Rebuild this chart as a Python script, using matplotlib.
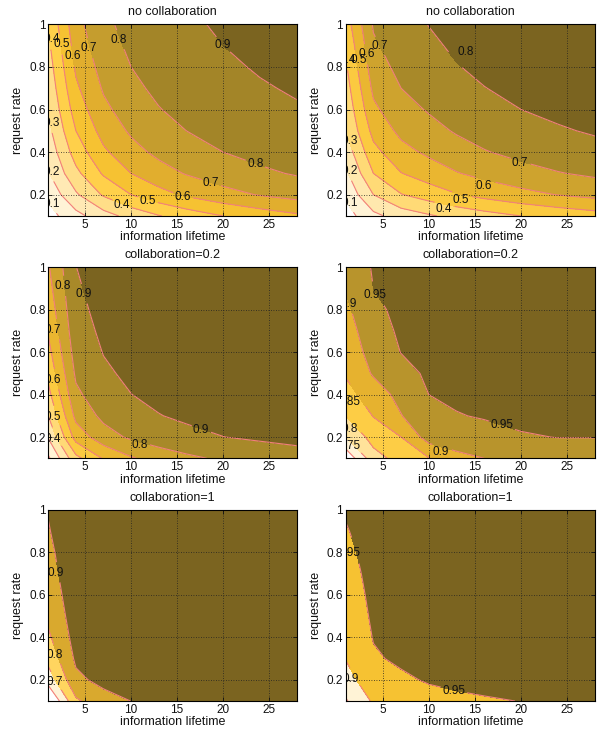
import numpy as np
import matplotlib
matplotlib.use('Agg')
import matplotlib.pyplot as plt
from matplotlib.colors import LinearSegmentedColormap

plt.rcParams['font.family'] = ['Liberation Sans', 'DejaVu Sans']

# ---------------- data ----------------
lifetime = [1, 4, 7, 10, 13, 16, 20, 24, 28]
request_rate = [0.1, 0.2, 0.3, 0.4, 0.5, 0.6, 0.7, 0.8, 0.9, 1.0]

# panel 1 (no collaboration, left) : rows = request rate, cols = lifetime
hit_p1_rows = [
    [0.060, 0.167, 0.259, 0.333, 0.394, 0.444, 0.500, 0.545, 0.583],
    [0.127, 0.286, 0.412, 0.500, 0.565, 0.615, 0.667, 0.706, 0.737],
    [0.193, 0.375, 0.512, 0.600, 0.661, 0.706, 0.750, 0.783, 0.808],
    [0.235, 0.444, 0.583, 0.667, 0.722, 0.762, 0.800, 0.828, 0.848],
    [0.273, 0.500, 0.636, 0.714, 0.765, 0.800, 0.833, 0.857, 0.875],
    [0.305, 0.545, 0.677, 0.750, 0.796, 0.828, 0.857, 0.878, 0.894],
    [0.330, 0.583, 0.710, 0.778, 0.820, 0.848, 0.875, 0.894, 0.907],
    [0.355, 0.615, 0.737, 0.800, 0.839, 0.865, 0.889, 0.906, 0.918],
    [0.380, 0.643, 0.759, 0.818, 0.854, 0.878, 0.900, 0.915, 0.926],
    [0.410, 0.667, 0.778, 0.833, 0.867, 0.889, 0.909, 0.923, 0.933],
]

# panel 2 (no collaboration, right) : rows = request rate
hit_p2_rows = [
    [0.056, 0.173, 0.245, 0.288, 0.328, 0.361, 0.400, 0.431, 0.458],
    [0.119, 0.300, 0.395, 0.447, 0.494, 0.531, 0.571, 0.603, 0.629],
    [0.181, 0.400, 0.497, 0.548, 0.594, 0.629, 0.666, 0.695, 0.717],
    [0.241, 0.470, 0.568, 0.618, 0.661, 0.694, 0.727, 0.752, 0.772],
    [0.300, 0.530, 0.624, 0.669, 0.709, 0.739, 0.769, 0.791, 0.809],
    [0.329, 0.580, 0.666, 0.708, 0.745, 0.773, 0.800, 0.820, 0.835],
    [0.357, 0.620, 0.700, 0.739, 0.773, 0.798, 0.823, 0.842, 0.856],
    [0.386, 0.655, 0.728, 0.764, 0.796, 0.819, 0.842, 0.859, 0.871],
    [0.414, 0.685, 0.752, 0.784, 0.814, 0.836, 0.857, 0.872, 0.884],
    [0.450, 0.710, 0.772, 0.802, 0.830, 0.850, 0.869, 0.884, 0.894],
]

# panel 3 (collaboration=0.2, left) : cols = lifetime
hit_p3_cols = [
    [0.182, 0.308, 0.400, 0.471, 0.526, 0.571, 0.609, 0.640, 0.667, 0.690],
    [0.471, 0.640, 0.727, 0.780, 0.816, 0.842, 0.862, 0.877, 0.889, 0.899],
    [0.609, 0.757, 0.824, 0.862, 0.886, 0.903, 0.916, 0.926, 0.933, 0.940],
    [0.690, 0.816, 0.870, 0.899, 0.917, 0.930, 0.940, 0.947, 0.952, 0.957],
    [0.743, 0.852, 0.897, 0.920, 0.935, 0.945, 0.953, 0.959, 0.963, 0.967],
    [0.780, 0.877, 0.914, 0.934, 0.947, 0.955, 0.961, 0.966, 0.970, 0.973],
    [0.816, 0.899, 0.930, 0.947, 0.957, 0.964, 0.969, 0.973, 0.976, 0.978],
    [0.842, 0.914, 0.941, 0.955, 0.964, 0.970, 0.974, 0.977, 0.980, 0.982],
    [0.862, 0.926, 0.949, 0.961, 0.969, 0.974, 0.978, 0.980, 0.982, 0.984],
]

# panel 4 (collaboration=0.2, right) : cols = lifetime
hit_p4_cols = [
    [0.660, 0.750, 0.801, 0.832, 0.855, 0.866, 0.878, 0.890, 0.902, 0.915],
    [0.780, 0.820, 0.852, 0.875, 0.905, 0.920, 0.930, 0.940, 0.950, 0.954],
    [0.820, 0.850, 0.898, 0.915, 0.935, 0.951, 0.957, 0.961, 0.964, 0.967],
    [0.848, 0.922, 0.938, 0.950, 0.957, 0.962, 0.966, 0.970, 0.973, 0.975],
    [0.885, 0.930, 0.948, 0.957, 0.964, 0.969, 0.973, 0.976, 0.979, 0.981],
    [0.900, 0.936, 0.953, 0.964, 0.970, 0.975, 0.978, 0.980, 0.982, 0.984],
    [0.910, 0.946, 0.961, 0.970, 0.975, 0.979, 0.982, 0.984, 0.986, 0.987],
    [0.921, 0.951, 0.967, 0.975, 0.979, 0.982, 0.985, 0.987, 0.988, 0.989],
    [0.925, 0.951, 0.971, 0.978, 0.982, 0.985, 0.987, 0.988, 0.990, 0.991],
]

# panel 5 (collaboration=1, left) : cols = lifetime
hit_p5_cols = [
    [0.476, 0.645, 0.732, 0.784, 0.820, 0.845, 0.864, 0.879, 0.894, 0.905],
    [0.784, 0.879, 0.916, 0.936, 0.948, 0.956, 0.962, 0.967, 0.970, 0.973],
    [0.864, 0.927, 0.950, 0.962, 0.970, 0.974, 0.978, 0.981, 0.983, 0.985],
    [0.901, 0.948, 0.965, 0.973, 0.978, 0.982, 0.985, 0.986, 0.988, 0.989],
    [0.922, 0.959, 0.973, 0.979, 0.983, 0.986, 0.988, 0.990, 0.991, 0.992],
    [0.936, 0.967, 0.978, 0.983, 0.986, 0.989, 0.990, 0.991, 0.992, 0.993],
    [0.948, 0.973, 0.982, 0.986, 0.989, 0.991, 0.992, 0.993, 0.994, 0.995],
    [0.956, 0.978, 0.985, 0.989, 0.991, 0.992, 0.993, 0.994, 0.995, 0.995],
    [0.962, 0.981, 0.987, 0.990, 0.992, 0.993, 0.994, 0.995, 0.996, 0.996],
]

# panel 6 (collaboration=1, right) : cols = lifetime
hit_p6_cols = [
    [0.845, 0.878, 0.902, 0.909, 0.917, 0.924, 0.932, 0.939, 0.947, 0.954],
    [0.907, 0.935, 0.945, 0.952, 0.957, 0.961, 0.964, 0.967, 0.969, 0.971],
    [0.925, 0.943, 0.957, 0.964, 0.969, 0.972, 0.975, 0.977, 0.979, 0.980],
    [0.935, 0.954, 0.966, 0.972, 0.977, 0.980, 0.982, 0.984, 0.985, 0.986],
    [0.940, 0.961, 0.971, 0.977, 0.981, 0.984, 0.986, 0.987, 0.988, 0.989],
    [0.945, 0.966, 0.975, 0.980, 0.984, 0.986, 0.988, 0.989, 0.990, 0.991],
    [0.951, 0.970, 0.978, 0.983, 0.986, 0.988, 0.990, 0.991, 0.992, 0.993],
    [0.956, 0.973, 0.981, 0.985, 0.988, 0.990, 0.991, 0.992, 0.993, 0.994],
    [0.960, 0.976, 0.983, 0.987, 0.990, 0.991, 0.992, 0.993, 0.994, 0.995],
]

levels_p1 = [0.1, 0.2, 0.3, 0.4, 0.5, 0.6, 0.7, 0.8, 0.9]
levels_p2 = [0.1, 0.2, 0.3, 0.4, 0.5, 0.6, 0.7, 0.8]
levels_p3 = [0.2, 0.3, 0.4, 0.5, 0.6, 0.7, 0.8, 0.9]
levels_p4 = [0.7, 0.75, 0.8, 0.85, 0.9, 0.95]
levels_p5 = [0.6, 0.7, 0.8, 0.9]
levels_p6 = [0.85, 0.9, 0.95]

titles = ['no collaboration', 'no collaboration',
          'collaboration=0.2', 'collaboration=0.2',
          'collaboration=1', 'collaboration=1']
x_label = 'information lifetime'
y_label = 'request rate'
x_ticks = [5, 10, 15, 20, 25]
y_ticks = [0.2, 0.4, 0.6, 0.8, 1.0]
y_tick_labels = ['0.2', '0.4', '0.6', '0.8', '1']

# contour label anchor points (level, lifetime, rate)
labels_p1 = [(0.4, 1.35, 0.93), (0.5, 2.45, 0.906), (0.6, 3.7, 0.85), (0.7, 5.4, 0.887),
             (0.8, 8.7, 0.925), (0.9, 19.95, 0.903), (0.3, 1.35, 0.538), (0.2, 1.35, 0.308),
             (0.1, 1.35, 0.156), (0.4, 8.97, 0.152), (0.5, 11.8, 0.17), (0.6, 15.6, 0.188),
             (0.7, 18.7, 0.253), (0.8, 23.5, 0.344)]
labels_p2 = [(0.8, 14.0, 0.872), (0.7, 4.7, 0.898), (0.6, 3.3, 0.86), (0.5, 2.4, 0.832),
             (0.4, 1.2, 0.832), (0.3, 1.4, 0.454), (0.2, 1.4, 0.313), (0.1, 1.4, 0.163),
             (0.4, 11.6, 0.131), (0.5, 13.5, 0.175), (0.6, 16.0, 0.241), (0.7, 19.9, 0.35)]
labels_p3 = [(0.8, 2.6, 0.912), (0.9, 4.8, 0.874), (0.7, 1.45, 0.705), (0.6, 1.45, 0.469),
             (0.5, 1.45, 0.296), (0.4, 1.45, 0.191), (0.9, 17.6, 0.233), (0.8, 10.9, 0.163)]
labels_p4 = [(0.95, 4.19, 0.87), (0.9, 1.35, 0.826), (0.85, 1.35, 0.367), (0.8, 1.45, 0.237),
             (0.75, 1.35, 0.158), (0.95, 17.96, 0.257), (0.9, 11.3, 0.131)]
labels_p5 = [(0.9, 1.8, 0.705), (0.8, 1.7, 0.317), (0.7, 1.7, 0.191)]
labels_p6 = [(0.95, 1.35, 0.799), (0.9, 1.5, 0.202), (0.95, 12.7, 0.147)]

# ---------------- style ----------------
cmap = LinearSegmentedColormap.from_list('hit', [
    (0.0, '#FFF3D6'), (0.125, '#FFE9B4'), (0.25, '#FFDE88'), (0.375, '#FFD04A'),
    (0.5, '#F6C232'), (0.625, '#E2AE2E'), (0.75, '#C69E2E'), (0.875, '#A48628'),
    (1.0, '#7B6420')])
line_color = '#F2807C'
FS_TICK = 8.5
FS_TEXT = 9

panels = [
    (np.array(hit_p1_rows), levels_p1, labels_p1),
    (np.array(hit_p2_rows), levels_p2, labels_p2),
    (np.array(hit_p3_cols).T, levels_p3, labels_p3),
    (np.array(hit_p4_cols).T, levels_p4, labels_p4),
    (np.array(hit_p5_cols).T, levels_p5, labels_p5),
    (np.array(hit_p6_cols).T, levels_p6, labels_p6),
]

W, H = 602, 734
fig = plt.figure(figsize=(W / 100, H / 100), dpi=100)
lefts = [48.3, 345.7]
rights = [296.7, 595.0]
tops = [24.3, 267.3, 510.0]
bottoms = [216.0, 458.3, 701.0]

X, Y = np.meshgrid(lifetime, request_rate)
for k, (Z, levels, labs) in enumerate(panels):
    r, c = divmod(k, 2)
    ax = fig.add_axes([lefts[c] / W, 1 - bottoms[r] / H,
                       (rights[c] - lefts[c]) / W, (bottoms[r] - tops[r]) / H])
    ax.set_xlim(1, 28)
    ax.set_ylim(0.1, 1)
    n = len(levels)
    cols = [cmap(i / (n - 1)) for i in range(n)]
    ax.contourf(X, Y, Z, levels=list(levels) + [1.0], colors=cols, zorder=1)
    # one line set per level so each label goes on its own contour
    line_sets = {}
    for lev in levels:
        line_sets[lev] = ax.contour(X, Y, Z, levels=[lev], colors=line_color,
                                    linewidths=0.8, zorder=2)
    for lev, lx, ly in labs:
        cs = line_sets[lev]
        cs.clabel(manual=[(lx, ly)], fmt='%g', fontsize=FS_TICK, colors=['k'],
                  inline=True, inline_spacing=2)
        t = cs.labelTexts[-1]
        t.set_rotation(0)
        t.set_position((lx, ly))
        t.set_color('#111111')
    ax.set_xticks(x_ticks)
    ax.set_yticks(y_ticks)
    ax.set_yticklabels(y_tick_labels)
    ax.tick_params(direction='in', top=True, right=True, length=3, width=0.6,
                   labelsize=FS_TICK, pad=2, colors='#111111')
    ax.set_axisbelow(False)
    ax.grid(True, linestyle=(0, (1, 2)), color='#222222', linewidth=0.6, zorder=3)
    for s in ax.spines.values():
        s.set_linewidth(0.8)
        s.set_zorder(5)
    ax.set_title(titles[k], fontsize=FS_TEXT, pad=6.5, color='#111111')
    ax.set_xlabel(x_label, fontsize=FS_TEXT, labelpad=0.5, color='#111111')
    ax.set_ylabel(y_label, fontsize=FS_TEXT, labelpad=3.5, color='#111111')

fig.savefig('out.png', dpi=100)
